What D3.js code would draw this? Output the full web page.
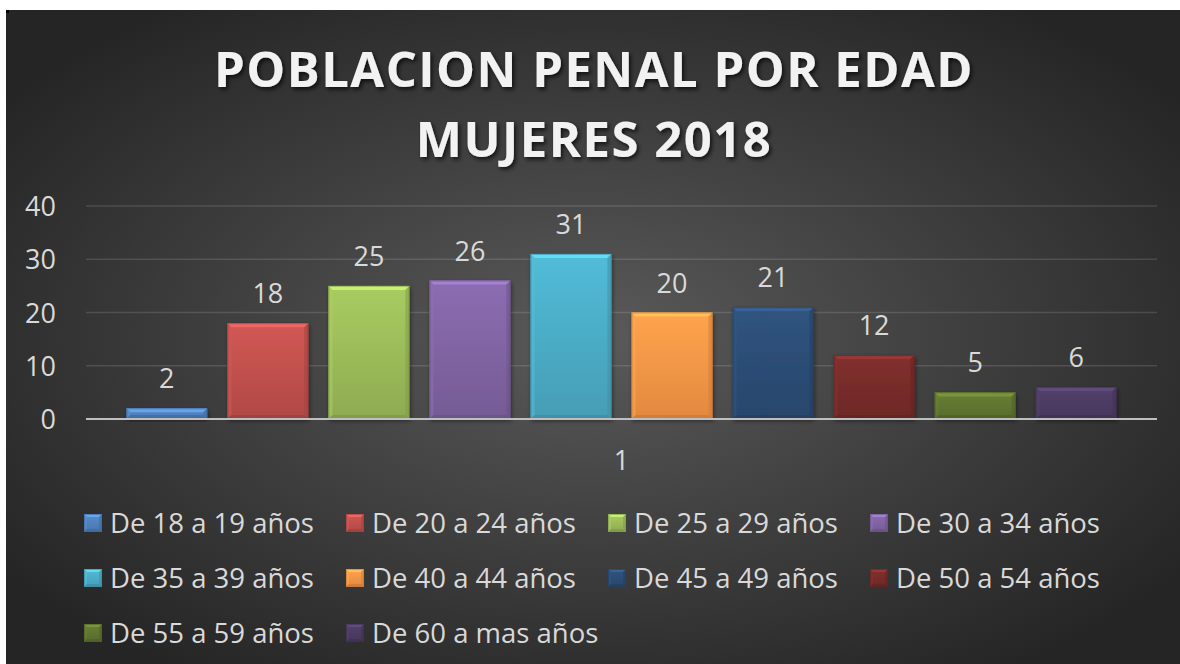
<!DOCTYPE html>
<html>
<head>
<meta charset="utf-8">
<script src="https://cdn.jsdelivr.net/npm/d3@7"></script>
<style>
  html, body { margin: 0; padding: 0; background: #ffffff; }
  svg { display: block; }
  text { font-family: "Open Sans", "Noto Sans", sans-serif; }
</style>
</head>
<body>
<svg id="chart" width="1180" height="664"></svg>
<script>
// Población penal femenina por grupo de edad, 2018
const categories = ["1"];
const seriesNames = [
  "De 18 a 19 años", "De 20 a 24 años", "De 25 a 29 años", "De 30 a 34 años",
  "De 35 a 39 años", "De 40 a 44 años", "De 45 a 49 años", "De 50 a 54 años",
  "De 55 a 59 años", "De 60 a mas años"
];
const seriesValues = [2, 18, 25, 26, 31, 20, 21, 12, 5, 6];
const seriesColors = [
  "#4f81bd", "#c0504d", "#9bbb59", "#8064a2", "#4bacc6",
  "#f79646", "#2c4d75", "#772c2a", "#5f7530", "#4d3b62"
];
const yTicks = [0, 10, 20, 30, 40];
const titleLines = ["POBLACION PENAL POR EDAD", "MUJERES 2018"];

const svg = d3.select("#chart");
const defs = svg.append("defs");

// background: dark radial gradient
const bg = defs.append("radialGradient").attr("id", "bgGrad")
  .attr("cx", "0.5").attr("cy", "0.5").attr("r", "0.62");
bg.append("stop").attr("offset", "0").attr("stop-color", "#5a5a5a");
bg.append("stop").attr("offset", "1").attr("stop-color", "#252525");

svg.append("rect").attr("x", 6).attr("y", 10).attr("width", 1174).attr("height", 654)
  .attr("fill", "url(#bgGrad)");
svg.append("rect").attr("x", 6).attr("y", 10).attr("width", 3).attr("height", 3).attr("fill", "#000");

// drop shadow for title
const shadow = defs.append("filter").attr("id", "txtShadow")
  .attr("x", "-10%").attr("y", "-30%").attr("width", "120%").attr("height", "160%");
shadow.append("feDropShadow").attr("dx", 2).attr("dy", 2.5).attr("stdDeviation", 2)
  .attr("flood-color", "#000").attr("flood-opacity", 0.7);

const barShadow = defs.append("filter").attr("id", "barShadow")
  .attr("x", "-10%").attr("y", "-10%").attr("width", "125%").attr("height", "130%");
barShadow.append("feDropShadow").attr("dx", 1).attr("dy", 2).attr("stdDeviation", 2)
  .attr("flood-color", "#000").attr("flood-opacity", 0.45);

// per-series vertical gradients
seriesColors.forEach((c, i) => {
  const g = defs.append("linearGradient").attr("id", "barGrad" + i)
    .attr("x1", 0).attr("y1", 0).attr("x2", 0).attr("y2", 1);
  g.append("stop").attr("offset", "0").attr("stop-color", d3.color(c).brighter(0.25));
  g.append("stop").attr("offset", "1").attr("stop-color", d3.color(c).darker(0.25));
});

// title
const title = svg.append("g").attr("filter", "url(#txtShadow)");
titleLines.forEach((t, i) => {
  title.append("text")
    .attr("x", 594).attr("y", 87 + i * 70)
    .attr("text-anchor", "middle")
    .attr("font-size", 49).attr("font-weight", 700)
    .attr("letter-spacing", 1.5)
    .attr("fill", "#f2f2f2")
    .text(t);
});

// scales
const x0 = d3.scaleBand().domain(categories).range([86, 1157]).paddingInner(0).paddingOuter(0);
const x1 = d3.scaleBand().domain(seriesNames).range([0, x0.bandwidth()])
  .paddingInner(0.2).paddingOuter(0.4);
const y = d3.scaleLinear().domain([0, 40]).range([419, 206]);

// gridlines
svg.append("g").selectAll("line").data(yTicks.filter(d => d > 0)).join("line")
  .attr("x1", 86).attr("x2", 1157)
  .attr("y1", d => y(d)).attr("y2", d => y(d))
  .attr("stroke", "#ffffff").attr("stroke-opacity", 0.13).attr("stroke-width", 1.3);

// y axis labels
const yAxis = svg.append("g").attr("transform", "translate(56,0)")
  .call(d3.axisLeft(y).tickValues(yTicks).tickSize(0).tickPadding(0));
yAxis.select(".domain").remove();
yAxis.selectAll("text")
  .attr("font-size", 27).attr("fill", "#d9d9d9")
  .attr("font-family", "'Open Sans', sans-serif")
  .attr("dy", "0.36em");

// bars with bevel
function bevel(g, x, yTop, w, h, color, b) {
  g.append("rect").attr("x", x).attr("y", yTop).attr("width", w).attr("height", h)
    .attr("fill", color.grad);
  const bb = Math.min(b, h / 2);
  const top = `${x},${yTop} ${x + w},${yTop} ${x + w - bb},${yTop + bb} ${x + bb},${yTop + bb}`;
  const bottom = `${x},${yTop + h} ${x + w},${yTop + h} ${x + w - bb},${yTop + h - bb} ${x + bb},${yTop + h - bb}`;
  const left = `${x},${yTop} ${x + bb},${yTop + bb} ${x + bb},${yTop + h - bb} ${x},${yTop + h}`;
  const right = `${x + w},${yTop} ${x + w - bb},${yTop + bb} ${x + w - bb},${yTop + h - bb} ${x + w},${yTop + h}`;
  g.append("polygon").attr("points", top).attr("fill", d3.color(color.base).brighter(0.9)).attr("opacity", 0.7);
  g.append("polygon").attr("points", left).attr("fill", d3.color(color.base).brighter(0.3)).attr("opacity", 0.55);
  g.append("polygon").attr("points", right).attr("fill", d3.color(color.base).darker(0.5)).attr("opacity", 0.55);
  g.append("polygon").attr("points", bottom).attr("fill", d3.color(color.base).darker(0.7)).attr("opacity", 0.55);
  g.append("rect").attr("x", x + 0.5).attr("y", yTop + 0.5).attr("width", w - 1).attr("height", h - 1)
    .attr("fill", "none").attr("stroke", d3.color(color.base).darker(0.6)).attr("stroke-opacity", 0.6);
}

const rows = seriesNames.map((s, i) => ({ name: s, value: seriesValues[i], i }));
const barG = svg.append("g").attr("transform", `translate(${x0(categories[0])},0)`);
rows.forEach(d => {
  const g = barG.append("g").attr("filter", "url(#barShadow)");
  bevel(g, x1(d.name), y(d.value), x1.bandwidth(), y(0) - y(d.value),
    { base: seriesColors[d.i], grad: `url(#barGrad${d.i})` }, 4);
});

// value labels
barG.selectAll("text.val").data(rows).join("text")
  .attr("class", "val")
  .attr("x", d => x1(d.name) + x1.bandwidth() / 2)
  .attr("y", d => y(d.value) - 20)
  .attr("text-anchor", "middle")
  .attr("font-size", 27).attr("fill", "#d9d9d9")
  .text(d => d.value);

// horizontal axis line
svg.append("line").attr("x1", 86).attr("x2", 1157).attr("y1", y(0)).attr("y2", y(0))
  .attr("stroke", "#bfbfbf").attr("stroke-width", 2.2);

// category label
const xAxis = svg.append("g").attr("transform", `translate(0,${y(0)})`)
  .call(d3.axisBottom(x0).tickSize(0).tickPadding(0));
xAxis.select(".domain").remove();
xAxis.selectAll("text")
  .attr("font-size", 27).attr("fill", "#d9d9d9")
  .attr("font-family", "'Open Sans', sans-serif")
  .attr("dy", 51);

// legend
const legend = svg.append("g");
rows.forEach(d => {
  const col = d.i % 4, row = Math.floor(d.i / 4);
  const lx = 84 + col * 262, ly = 523 + row * 55;
  const g = legend.append("g");
  bevel(g, lx, ly - 9, 18, 18, { base: seriesColors[d.i], grad: `url(#barGrad${d.i})` }, 3);
  legend.append("text")
    .attr("x", lx + 26).attr("y", ly).attr("dy", "0.36em")
    .attr("font-size", 27.5).attr("fill", "#d9d9d9")
    .text(d.name);
});
</script>
</body>
</html>
